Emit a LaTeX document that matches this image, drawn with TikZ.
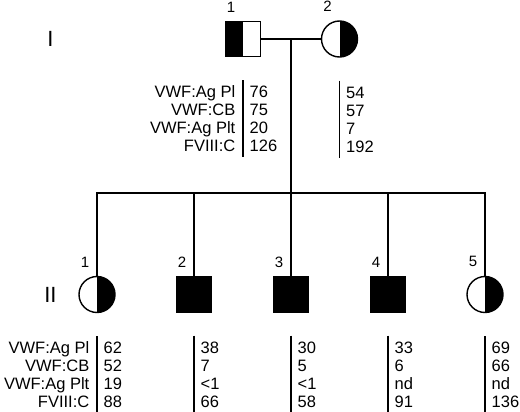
\documentclass[tikz,border=0pt]{standalone}
\usepackage{fontspec}
\setmainfont{Liberation Sans}
\usetikzlibrary{positioning}

\begin{document}
\begin{tikzpicture}[x=1pt, y=1pt, line width=1.4pt, font=\fontsize{16.5}{18}\selectfont, label distance=8pt]
    % Styles
    \tikzstyle{male} = [rectangle, draw, minimum size=35pt, inner sep=0pt]
    \tikzstyle{female} = [circle, draw, minimum size=36pt, inner sep=0pt]
    \tikzstyle{affected} = [fill=black]
    \tikzstyle{carrier left} = [path picture={\fill (path picture bounding box.south west) rectangle (path picture bounding box.north);}]
    \tikzstyle{carrier right} = [path picture={\fill (path picture bounding box.south) rectangle (path picture bounding box.north east);}]
    \tikzstyle{num} = [inner sep=0pt, xshift=-12pt, font=\fontsize{15}{17}\selectfont]
    \tikzstyle{gen} = [inner sep=0pt, font=\fontsize{22}{24}\selectfont]
    \tikzstyle{val} = [inner sep=0pt, anchor=base west]
    \tikzstyle{rowlab} = [inner sep=0pt, anchor=base east]

    \useasboundingbox (0,0) rectangle (520,-412);

    % Generation I
    \node [male, carrier left, label={[num]above:1}] (I1) at (243,-39) {};
    \node [female, carrier right, label={[num]above:2}] (I2) at (339.5,-39) {};

    % Generation II
    \node [female, carrier right, label={[num]above:1}] (II1) at (97,-294.5) {};
    \node [male, affected, label={[num]above:2}] (II2) at (194,-294.5) {};
    \node [male, affected, label={[num]above:3}] (II3) at (291,-294.5) {};
    \node [male, affected, label={[num]above:4}] (II4) at (388,-294.5) {};
    \node [female, carrier right, label={[num]above:5}] (II5) at (485,-294.5) {};

    \node [gen, left=21pt of II1] (genII) {II};
    \node [gen] (genI) at (genII |- I1) {I};

    % Lines of descent
    \coordinate (mate) at (291,-39);
    \coordinate (sibs) at (291,-193);
    \draw (I1) -- (I2);
    \draw (mate) -- (sibs);
    \draw (II1.north) |- (sibs) -| (II5.north);
    \foreach \c in {II2,II3,II4}
        \draw (\c.north) -- (\c.north |- sibs);

    % Laboratory values
    \foreach \p/\vals in {I1/{76,75,20,126}, I2/{54,57,7,192}, II1/{62,52,19,88}, II2/{38,7,<1,66}, II3/{30,5,<1,58}, II4/{33,6,nd,91}, II5/{69,66,nd,136}} {
        \coordinate (\p-top) at ([yshift=-23pt]\p.south);
        \draw (\p-top) -- ++(0,-77);
        \foreach \v [count=\r] in \vals
            \node [val] (\p-\r) at ([xshift=6pt, yshift={-17.5pt-18pt*(\r-1)}]\p-top) {\v};
    }
    \foreach \lab [count=\r] in {VWF:Ag Pl,VWF:CB,VWF:Ag Plt,FVIII:C} {
        \node [rowlab] (labI-\r) at ([xshift=-13pt]I1-\r.base west) {\lab};
        \node [rowlab] (labII-\r) at ([xshift=-13pt]II1-\r.base west) {\lab};
    }
\end{tikzpicture}
\end{document}
